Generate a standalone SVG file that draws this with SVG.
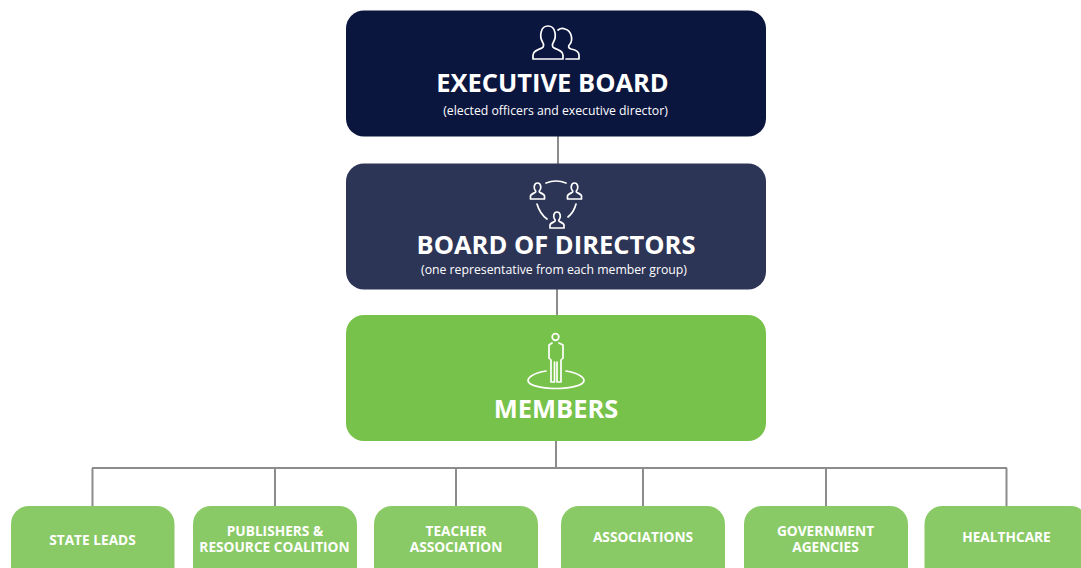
<svg xmlns="http://www.w3.org/2000/svg" width="1081" height="568" viewBox="0 0 1081 568">
<style>
text{font-family:"Open Sans","Noto Sans","Liberation Sans",sans-serif;fill:#fff;text-anchor:middle}
.t{font-size:25.500px;font-weight:700}
.s{font-size:12.250px;font-weight:400}
.b{font-size:13.700px;font-weight:700}
.c{fill:#8aca66}
.i{fill:none;stroke:#fff;stroke-width:1.700;stroke-linejoin:round;stroke-linecap:round}
.l{fill:none;stroke:#8c8c8c;stroke-width:2}
</style>
<rect width="1081" height="568" fill="#fff"/>
<g id="connectors">
<path class="l" d="M558 136V164M557 289V316M556 440V468M92 468H1007M92.500 468V506M275 468V506M456 468V506M643 468V506M826 468V506M1006.500 468V506"/>
</g>
<g id="executive-board">
<rect x="346" y="10.500" width="420" height="126" rx="18" fill="#0b163f"/>
<path class="i" d="M533 59V55C533 51.500 537 50 542 48C544 47 544 44.500 542.500 42C539.500 37 540 26 548 26C556 26 556.500 37 553.500 42C552 44.500 552 47 554 48C559 50 563 51.500 563 55V59Z"/>
<path class="i" d="M558 30C560 28.500 563 28 565 29C572 31 573 40 570 44C568 46 568 48 571 49C576 50 579 52 579 55V59H566"/>
<text class="t" x="552.500" y="91.500">EXECUTIVE BOARD</text>
<text class="s" x="555.500" y="115">(elected officers and executive director)</text>
</g>
<g id="board-of-directors">
<rect x="346" y="163.500" width="420" height="126" rx="18" fill="#2d3557"/>
<g id="people">
<path class="i" d="M530.500 199V196C530.500 194.500 533 193.500 535 192.500C536 192 536 191 535 190C533.500 188 534 183 537.500 183C541 183 541.500 188 540 190C539 191 539 192 540 192.500C542 193.500 544.500 194.500 544.500 196V199Z"/>
<path class="i" d="M567.500 199V196C567.500 194.500 570 193.500 572 192.500C573 192 573 191 572 190C570.500 188 571 183 574.500 183C578 183 578.500 188 577 190C576 191 576 192 577 192.500C579 193.500 581.500 194.500 581.500 196V199Z"/>
<path class="i" d="M550 228V225C550 223.500 552.500 222.500 554.500 221.500C555.500 221 555.500 220 554.500 219C553 217 553.500 212 557 212C560.500 212 561 217 559.500 219C558.500 220 558.500 221 559.500 221.500C561.500 222.500 564 223.500 564 225V228Z"/>
<path class="i" d="M546 183Q556 179 566 183M537 204Q540 214 547 219M576 204Q574 212 568 217"/>
</g>
<text class="t" x="556" y="253.500">BOARD OF DIRECTORS</text>
<text class="s" x="554" y="274">(one representative from each member group)</text>
</g>
<g id="members">
<rect x="346" y="315" width="420" height="126" rx="18" fill="#77c24a"/>
<circle class="i" cx="555.500" cy="337" r="3.300"/>
<path class="i" d="M552 343L549 345V358L551 360V382H554.500V362M559 343L563 345V358L561 360V382H557V362"/>
<path class="i" d="M546 371C534 373 528 377 528 380.500C528 385 540 388.500 556 388.500C572 388.500 584 385 584 380.500C584 377 578 373 566 371"/>
<text class="t" x="556" y="417.500">MEMBERS</text>
</g>
<g id="state-leads"><rect class="c" x="11" y="506" width="163.500" height="80" rx="18"/><text class="b" x="92.500" y="545">STATE LEADS</text></g>
<g id="publishers"><rect class="c" x="193" y="506" width="164" height="80" rx="18"/><text class="b" x="275" y="536">PUBLISHERS &amp;</text><text class="b" x="274.500" y="552">RESOURCE COALITION</text></g>
<g id="teacher-association"><rect class="c" x="374" y="506" width="164" height="80" rx="18"/><text class="b" x="456" y="536">TEACHER</text><text class="b" x="456" y="552">ASSOCIATION</text></g>
<g id="associations"><rect class="c" x="561" y="506" width="164" height="80" rx="18"/><text class="b" x="643" y="542">ASSOCIATIONS</text></g>
<g id="government-agencies"><rect class="c" x="744" y="506" width="164" height="80" rx="18"/><text class="b" x="825.500" y="536">GOVERNMENT</text><text class="b" x="825.500" y="552">AGENCIES</text></g>
<g id="healthcare"><rect class="c" x="924.500" y="506" width="164" height="80" rx="18"/><text class="b" x="1006.500" y="542">HEALTHCARE</text></g>
</svg>
